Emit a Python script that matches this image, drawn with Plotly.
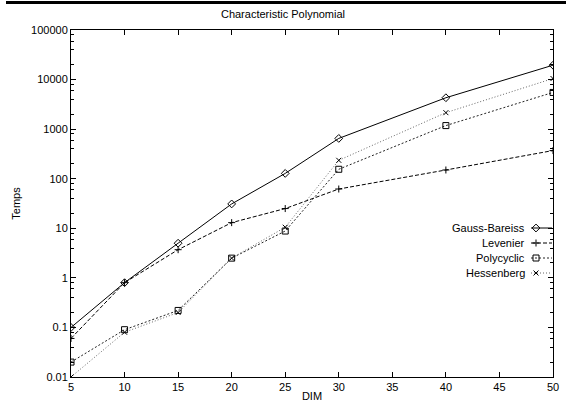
import plotly.graph_objects as go

dims = [5, 10, 15, 20, 25, 30, 40, 50]
gauss_bareiss = [0.1, 0.8, 5.0, 31, 128, 650, 4300, 19500]
levenier = [0.06, 0.8, 3.7, 13, 25, 62, 150, 370]
polycyclic = [0.02, 0.09, 0.22, 2.5, 8.8, 155, 1180, 5500]
hessenberg = [0.01, 0.08, 0.2, 2.5, 10.5, 235, 2150, 10500]

series = [
    ("Gauss-Bareiss", gauss_bareiss, "diamond-open", "solid", "black", 6),
    ("Levenier", levenier, "cross-thin-open", "4px,2px", "black", 5),
    ("Polycyclic", polycyclic, "square-open", "2px,2px", "#222222", 6),
    ("Hessenberg", hessenberg, "x-thin-open", "1px,2px", "#666666", 5),
]

FONT = "Liberation Sans, Arial, sans-serif"
L, R, T, B = 71, 13, 30, 28
W, H = 566, 405
PW, PH = W - L - R, H - T - B

fig = go.Figure()
for name, vals, sym, dash, col, ms in series:
    fig.add_trace(go.Scatter(
        x=dims, y=vals, mode="lines+markers", name=name,
        line=dict(color=col, width=1, dash=dash),
        marker=dict(symbol=sym, size=ms, color="black", line=dict(color="black", width=1)),
        showlegend=False,
    ))

# custom gnuplot-style legend (text right-aligned, sample to the right)
leg_y0 = 228
for i, (name, vals, sym, dash, col, ms) in enumerate(series):
    py = leg_y0 + 15 * i
    yy = H - B - py  # pixel from bottom of plot
    fig.add_annotation(xref="x2", yref="y2", x=527 - L, y=yy, text=name,
                       showarrow=False, xanchor="right", yanchor="middle",
                       font=dict(family=FONT, size=11, color="black"))
    fig.add_trace(go.Scatter(
        x=[531 - L, 552 - L], y=[yy, yy], xaxis="x2", yaxis="y2", mode="lines",
        line=dict(color=col, width=1, dash=dash), showlegend=False, hoverinfo="skip"))
    fig.add_trace(go.Scatter(
        x=[536 - L], y=[yy], xaxis="x2", yaxis="y2", mode="markers",
        marker=dict(symbol=sym, size=ms, color="black", line=dict(color="black", width=1)),
        showlegend=False, hoverinfo="skip"))

# top page border bar
fig.add_shape(type="line", xref="paper", yref="paper", layer="above",
              x0=(6 - L) / PW, x1=(566 - L) / PW, y0=(H - B - 2.5) / PH, y1=(H - B - 2.5) / PH,
              line=dict(color="black", width=3))

axis_common = dict(showline=True, linecolor="black", linewidth=1, mirror="ticks",
                   ticks="inside", tickcolor="black", ticklen=5, showgrid=False, zeroline=False,
                   automargin=False,
                   tickfont=dict(family=FONT, size=11, color="black"))

fig.update_layout(
    width=W, height=H, margin=dict(l=L, r=R, t=T, b=B, autoexpand=False),
    paper_bgcolor="white", plot_bgcolor="white",
    title=dict(text="Characteristic Polynomial", x=0.5, xanchor="center", y=1 - 14 / H, yanchor="middle",
               font=dict(family=FONT, size=11, color="black")),
    xaxis=dict(range=[5, 50], tickvals=[5, 10, 15, 20, 25, 30, 35, 40, 45, 50],
               title=dict(text="DIM", standoff=0, font=dict(family=FONT, size=11, color="black")),
               **axis_common),
    yaxis=dict(type="log", range=[-2, 5],
               tickvals=[0.01, 0.1, 1, 10, 100, 1000, 10000, 100000],
               ticktext=["0.01", "0.1", "1", "10", "100", "1000", "10000", "100000"],
               minor=dict(ticks="inside", ticklen=3, tickcolor="black", tickvals=[
                   v * m for v in [0.01, 0.1, 1, 10, 100, 1000, 10000] for m in [2, 4, 6, 8]]),
               title=dict(text="Temps", standoff=8, font=dict(family=FONT, size=11, color="black")),
               **axis_common),
    xaxis2=dict(overlaying="x", range=[0, PW], visible=False),
    yaxis2=dict(overlaying="y", range=[0, PH], visible=False),
)

fig.write_html("out.html", config={"displayModeBar": False},
               post_script="document.body.style.margin='0';document.body.style.padding='0';")
